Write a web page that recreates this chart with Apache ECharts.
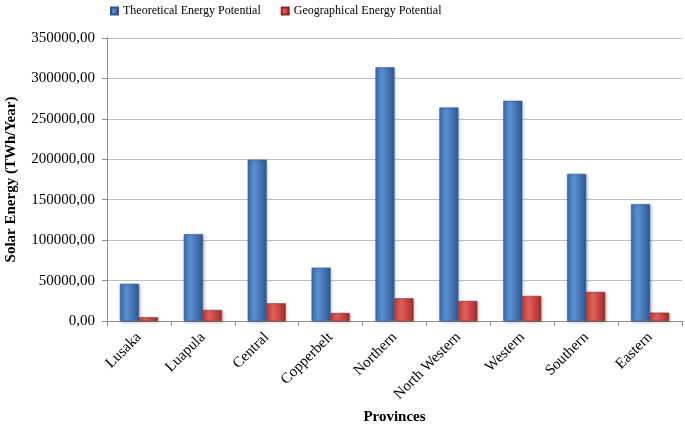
<!DOCTYPE html>
<html>
<head>
<meta charset="utf-8">
<script src="https://cdn.jsdelivr.net/npm/echarts@6/dist/echarts.min.js"></script>
<style>html,body{margin:0;padding:0;background:#fff;}#c{width:685px;height:425px;}</style>
</head>
<body>
<div id="c"></div>
<script>
var categories = ['Lusaka', 'Luapula', 'Central', 'Copperbelt', 'Northern', 'North Western', 'Western', 'Southern', 'Eastern'];
var theoretical = [46000, 107300, 199300, 66000, 313800, 264000, 272300, 181900, 144400];
var geographical = [4600, 13600, 21900, 9900, 28100, 24700, 30900, 35900, 10300];
var seriesNames = ['Theoretical Energy Potential', 'Geographical Energy Potential'];
var yMin = 0, yMax = 350000, yStep = 50000;

var font = 'Liberation Serif';
function grad(a, b, c) {
  return new echarts.graphic.LinearGradient(0, 0, 1, 0, [
    {offset: 0, color: a}, {offset: 0.35, color: b}, {offset: 1, color: c}
  ]);
}
var chart = echarts.init(document.getElementById('c'));
chart.setOption({
  animation: false,
  backgroundColor: '#fff',
  legend: {
    left: 105, top: 0,
    itemWidth: 7, itemHeight: 7, itemGap: 20, itemTextGap: 3,
    icon: 'rect',
    textStyle: {fontFamily: font, fontSize: 12, color: '#000'},
    data: seriesNames
  },
  grid: {left: 107, right: 3, top: 38, bottom: 104, containLabel: false, outerBoundsMode: 'none'},
  xAxis: {
    type: 'category',
    data: categories,
    name: 'Provinces',
    nameLocation: 'middle',
    nameGap: 88,
    nameTextStyle: {fontFamily: font, fontSize: 15, fontWeight: 'bold', color: '#000'},
    axisLine: {lineStyle: {color: '#8c8c8c'}},
    axisTick: {show: true, length: 5, lineStyle: {color: '#8c8c8c'}},
    axisLabel: {rotate: 45, fontFamily: font, fontSize: 15, color: '#000', margin: 14, interval: 0}
  },
  yAxis: {
    type: 'value',
    min: yMin, max: yMax, interval: yStep,
    name: 'Solar Energy (TWh/Year)',
    nameLocation: 'middle',
    nameGap: 88,
    nameTextStyle: {fontFamily: font, fontSize: 15, fontWeight: 'bold', color: '#000'},
    axisLine: {show: true, lineStyle: {color: '#8c8c8c'}},
    axisTick: {show: true, length: 5, lineStyle: {color: '#8c8c8c'}},
    splitLine: {lineStyle: {color: '#c0c0c0'}},
    axisLabel: {
      fontFamily: font, fontSize: 15, color: '#000', margin: 12,
      formatter: function (v) { return v.toFixed(2).replace('.', ','); }
    }
  },
  series: [
    {
      name: seriesNames[0], type: 'bar', data: theoretical,
      barWidth: 19, barGap: '0%',
      itemStyle: {
        color: grad('#3b6db3', '#5a8fd2', '#2d5996'),
        borderColor: '#2a5590', borderWidth: 0.5,
        shadowBlur: 3, shadowColor: 'rgba(0,0,0,0.3)', shadowOffsetX: 1, shadowOffsetY: 1
      }
    },
    {
      name: seriesNames[1], type: 'bar', data: geographical,
      barWidth: 19,
      itemStyle: {
        color: grad('#bf3b37', '#e2605c', '#a52b28'),
        borderColor: '#8f2422', borderWidth: 0.5,
        shadowBlur: 3, shadowColor: 'rgba(0,0,0,0.3)', shadowOffsetX: 1, shadowOffsetY: 1
      }
    }
  ],
  color: ['#4f81bd', '#c0504d']
});
</script>
</body>
</html>
